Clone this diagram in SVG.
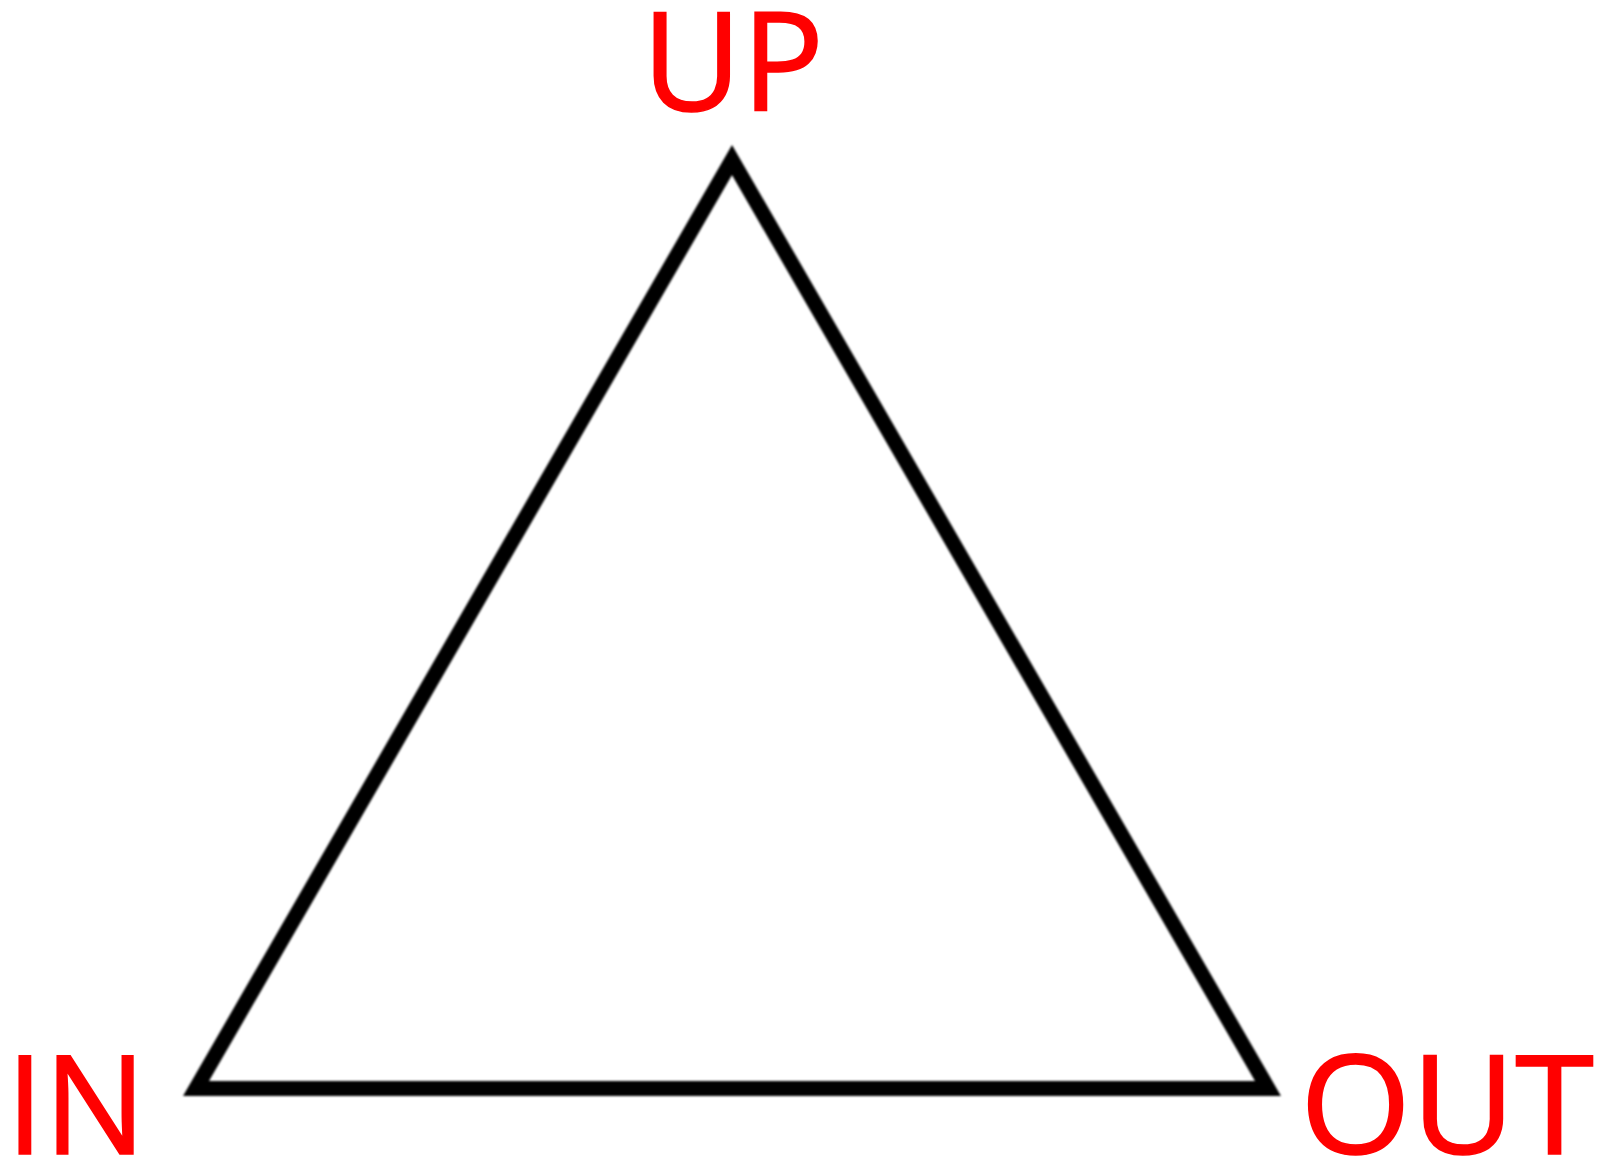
<svg xmlns="http://www.w3.org/2000/svg" width="1612" height="1163" viewBox="0 0 1612 1163">
<defs>
<filter id="soft" x="-5%" y="-5%" width="110%" height="110%"><feGaussianBlur stdDeviation="0.8"/></filter>
</defs>
<style>
.lbl{font-family:"Open Sans","Liberation Sans",sans-serif;font-size:138px;fill:#ff0000;stroke:#ff0000;stroke-width:1.6}
.tri{fill:none;stroke:#000;stroke-width:15;stroke-linejoin:miter;stroke-miterlimit:10}
</style>
<rect width="1612" height="1163" fill="#fff"/>
<g id="triangle">
<polygon class="tri" points="732,160 1268,1088.5 196,1088.5" filter="url(#soft)"/>
</g>
<g id="label-up"><text class="lbl" x="642" y="111" textLength="182" lengthAdjust="spacingAndGlyphs">UP</text></g>
<g id="label-in"><text class="lbl" x="6" y="1154" textLength="140" lengthAdjust="spacingAndGlyphs">IN</text></g>
<g id="label-out"><text class="lbl" x="1300" y="1154" textLength="294" lengthAdjust="spacingAndGlyphs">OUT</text></g>
</svg>
